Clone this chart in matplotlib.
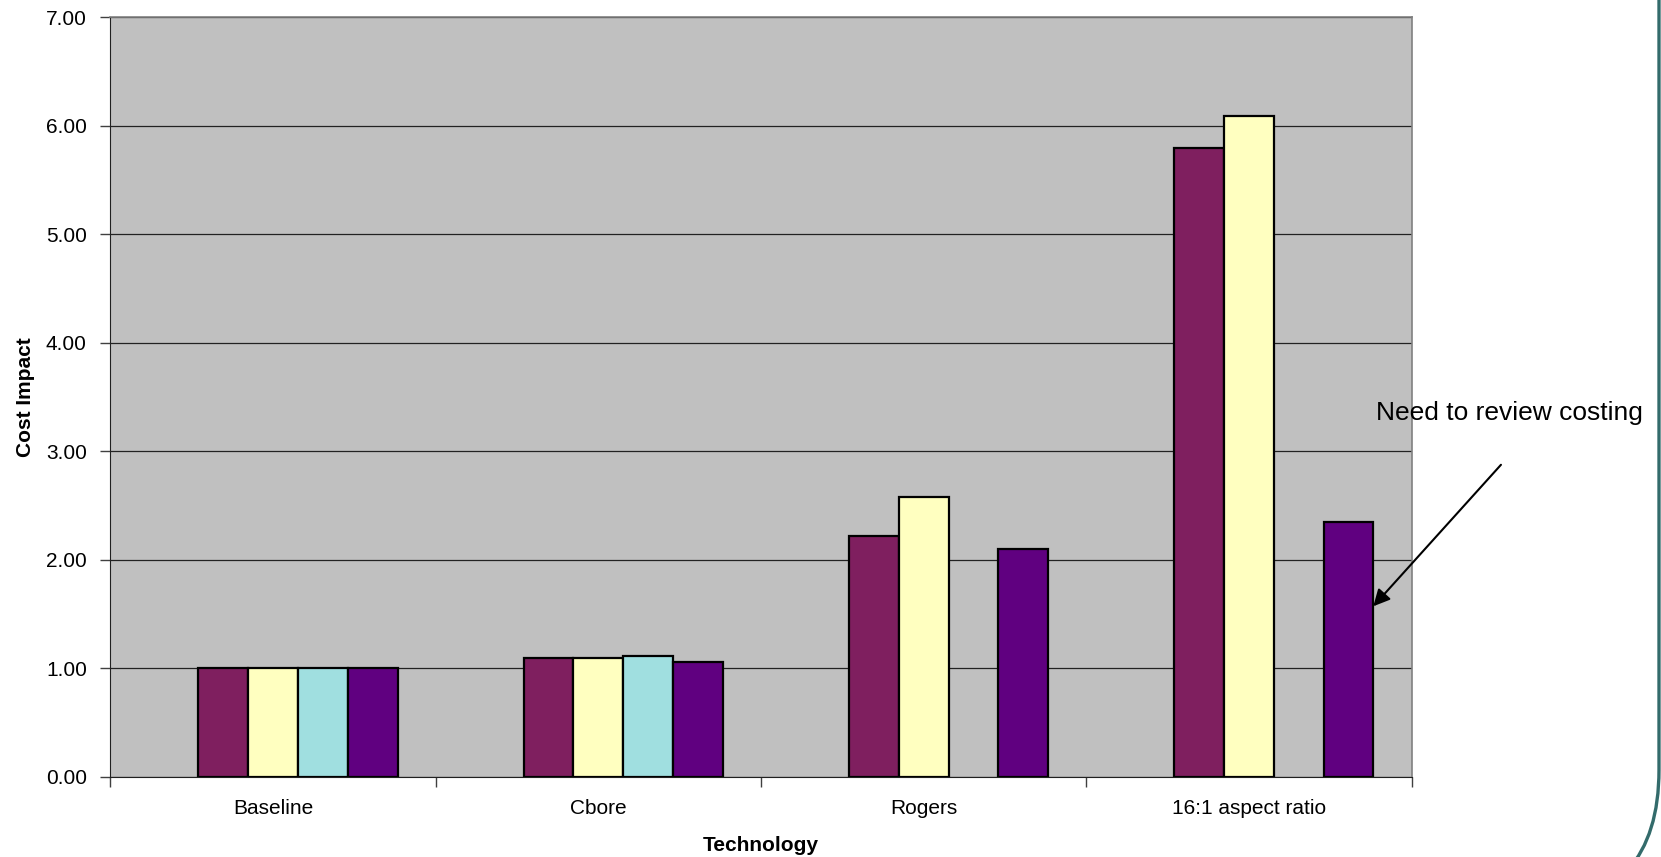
import numpy as np
import matplotlib
matplotlib.use('Agg')
import matplotlib.pyplot as plt
from matplotlib.path import Path
from matplotlib.patches import PathPatch

plt.rcParams['font.family'] = ['Liberation Sans', 'DejaVu Sans']

# cost impact per technology, one list per series (nan = no bar)
categories = ['Baseline', 'Cbore', 'Rogers', '16:1 aspect ratio']
series_a = [1.00, 1.09, 2.22, 5.80]
series_b = [1.00, 1.09, 2.58, 6.09]
series_c = [1.00, 1.11, np.nan, np.nan]
series_d = [1.00, 1.06, 2.10, 2.35]
y_ticks = [0, 1, 2, 3, 4, 5, 6, 7]
note_text = 'Need to review costing'
note_value = 1.57  # where the arrow lands on the last bar

colors = ['#7f1f5f', '#ffffc0', '#a0dfe0', '#600080']
bar_w = 0.153
# Excel-style cluster of five slots, first slot empty
slots = [1, 2, 3, 4]

fig = plt.figure(figsize=(16.61, 8.57), dpi=100)
ax = fig.add_axes([0.0665, 0.0939, 0.7833, 0.8857])
ax.set_facecolor('#c0c0c0')

x = np.arange(len(categories))
for slot, vals, col in zip(slots, [series_a, series_b, series_c, series_d], colors):
    offset = (slot - 2) * bar_w
    ax.bar(x + offset, vals, width=bar_w, color=col, edgecolor='black',
           linewidth=1.6, zorder=3)

ax.set_xlim(-0.5, len(categories) - 0.5)
ax.set_ylim(0, 7)
ax.set_yticks(y_ticks)
ax.set_yticklabels(['%.2f' % v for v in y_ticks], fontsize=15)
ax.set_xticks(x)
ax.set_xticklabels(categories, fontsize=15)
ax.set_xticks(np.arange(len(categories) + 1) - 0.5, minor=True)
ax.tick_params(axis='x', which='major', length=0, pad=16)
ax.tick_params(axis='x', which='minor', length=7, width=1, color='#404040', direction='out')
ax.tick_params(axis='y', length=7, width=1, color='#404040', pad=10)

ax.yaxis.grid(True, color='#222222', linewidth=0.9, zorder=1)
ax.set_axisbelow(True)

for side in ['top', 'right']:
    ax.spines[side].set_color('#808080')
    ax.spines[side].set_linewidth(1.2)
ax.spines['left'].set_color('#202020')
ax.spines['bottom'].set_color('#202020')

ax.set_xlabel('Technology', fontsize=15, fontweight='bold', labelpad=13)
ax.set_ylabel('Cost Impact', fontsize=15, fontweight='bold', labelpad=8)

bar_right = 3 + (slots[3] - 2) * bar_w + bar_w / 2
ax.annotate('', xy=(bar_right, note_value), xytext=(3.775, 2.875),
            arrowprops=dict(arrowstyle='-|>', color='black', lw=1.5,
                            mutation_scale=25, shrinkA=0, shrinkB=0),
            annotation_clip=False, zorder=5)
ax.text(3.39, 3.355, note_text, fontsize=19, va='center', ha='left',
        clip_on=False)

# slide border on the right
W, H = 1661.0, 857.0
verts = [(1659 / W, 1.0), (1659 / W, 1 - 770 / H),
         (1659 / W, 1 - 835 / H), (1628 / W, 1 - 870 / H)]
codes = [Path.MOVETO, Path.LINETO, Path.CURVE3, Path.CURVE3]
fig.add_artist(PathPatch(Path(verts, codes), transform=fig.transFigure,
                         fill=False, edgecolor='#336b6b', linewidth=2.4))

fig.savefig('out.png', dpi=100)
